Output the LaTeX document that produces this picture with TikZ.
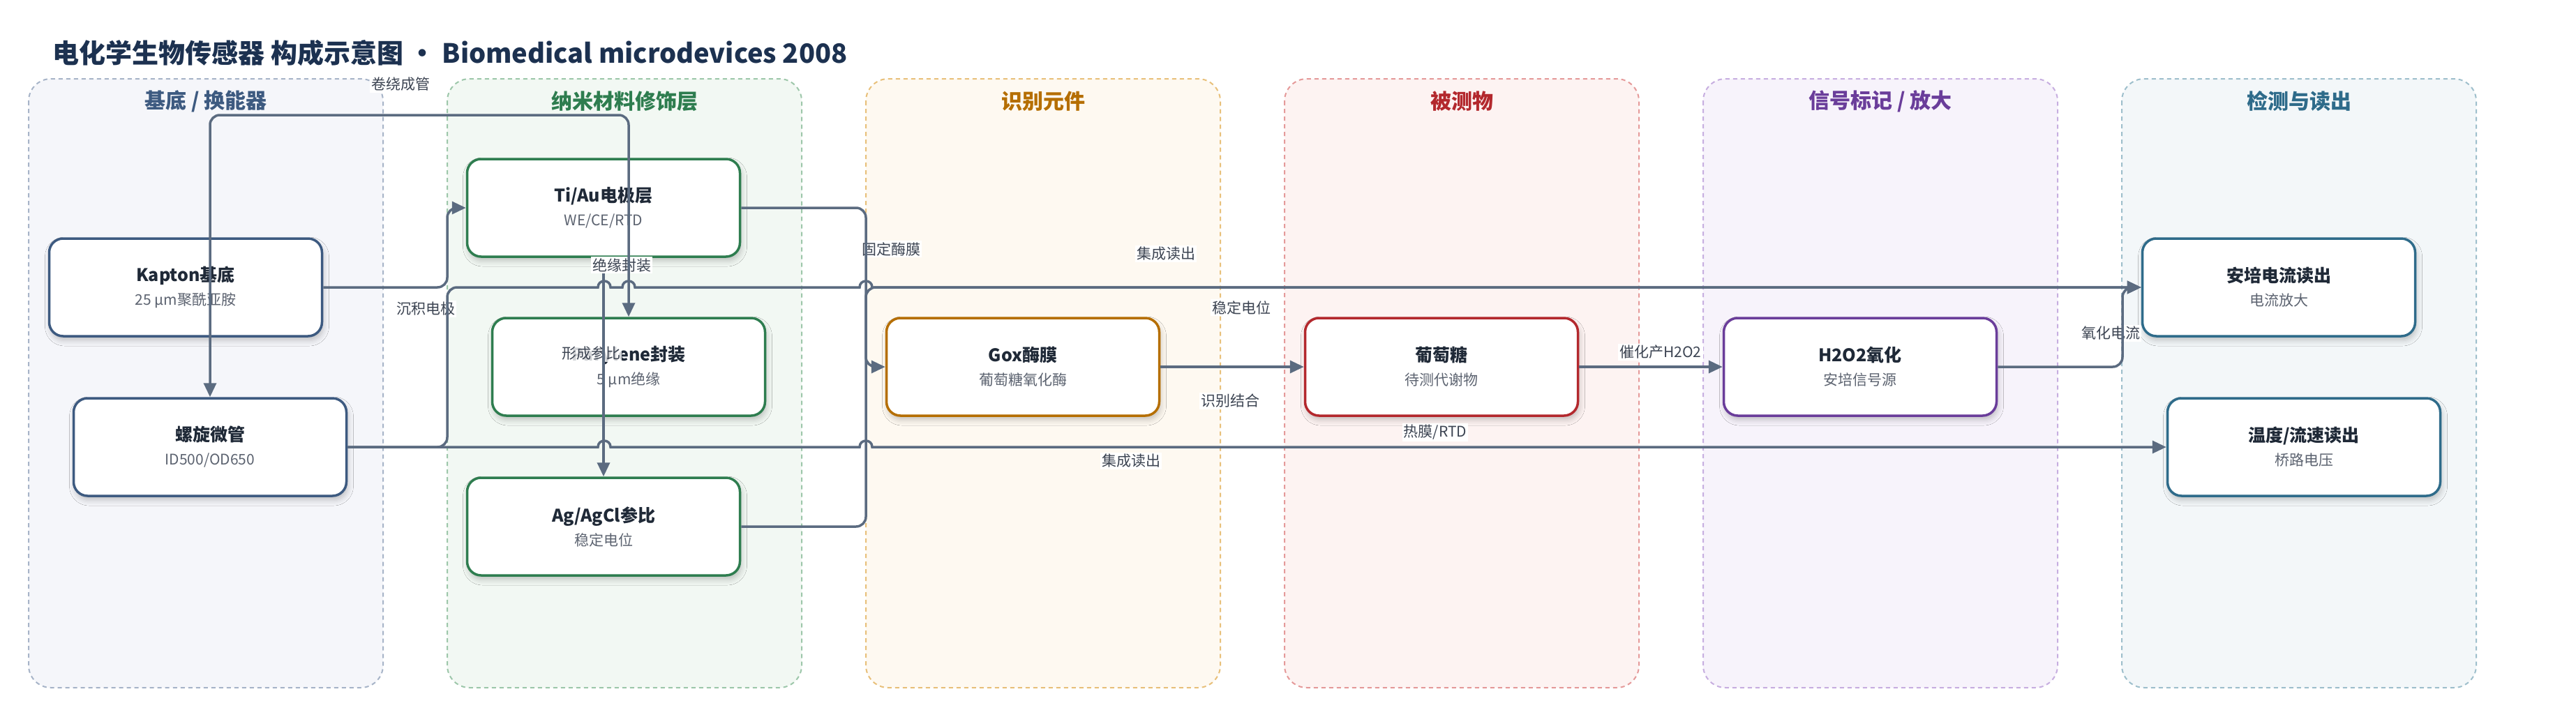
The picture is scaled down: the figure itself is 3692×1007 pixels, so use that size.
\documentclass[tikz,border=0pt]{standalone}
\usepackage{fontspec}
\setmainfont{Noto Sans CJK SC}
\usetikzlibrary{arrows.meta,shadows.blur}
\definecolor{edgec}{HTML}{5B6B80}
\definecolor{titlec}{HTML}{1C3150}
\definecolor{subc}{HTML}{5C6370}
\definecolor{lblc}{HTML}{3C4452}
\definecolor{txtc}{HTML}{1F2937}
\definecolor{bT}{HTML}{3D5A80}\definecolor{bF}{HTML}{F5F6FA}\definecolor{bB}{HTML}{A7B4C8}
\definecolor{gT}{HTML}{2E7D4F}\definecolor{gF}{HTML}{F2F8F3}\definecolor{gB}{HTML}{9DC7AA}
\definecolor{oT}{HTML}{B56E00}\definecolor{oF}{HTML}{FEF9F1}\definecolor{oB}{HTML}{E8C07A}
\definecolor{rT}{HTML}{B3282D}\definecolor{rF}{HTML}{FDF3F2}\definecolor{rB}{HTML}{E59A9A}
\definecolor{pT}{HTML}{6A3D9A}\definecolor{pF}{HTML}{F7F3FB}\definecolor{pB}{HTML}{C7AEE0}
\definecolor{tT}{HTML}{2E6B8A}\definecolor{tF}{HTML}{F3F7F9}\definecolor{tB}{HTML}{9EBFCC}
\newcommand{\nd}[2]{{\fontsize{25}{34}\selectfont\bfseries\color{txtc}#1}\\{\color{subc}#2}}
\tikzset{
  lane/.style={rounded corners=32pt, line width=2pt, dash pattern=on 6pt off 5pt},
  lanetitle/.style={font=\fontsize{30}{34}\selectfont\bfseries},
  box/.style={rectangle, rounded corners=20pt, line width=3.5pt, fill=white,
    minimum width=391pt, minimum height=140pt, inner sep=0pt, align=center,
    font=\fontsize{21}{34}\selectfont,
    blur shadow={shadow xshift=2pt, shadow yshift=-6pt, shadow blur radius=8pt, shadow opacity=22}},
  conn/.style={draw=edgec, line width=3.5pt, rounded corners=14pt,
    -{Triangle[length=20pt,width=18pt]}},
  lbl/.style={font=\fontsize{21}{24}\selectfont, text=lblc, fill=white, inner sep=2pt}
}
\begin{document}
\begin{tikzpicture}[x=1pt,y=-1pt]
\useasboundingbox[fill=white] (0,0) rectangle (3692,1007);
\node[anchor=west, text=titlec, font=\fontsize{38}{44}\selectfont\bfseries] (title) at (72,76)
  {电化学生物传感器 构成示意图 · Biomedical microdevices 2008};
% lanes
\draw[lane, draw=bB, fill=bF] (41,113) rectangle (549,986);
\draw[lane, draw=gB, fill=gF] (641,113) rectangle (1149,986);
\draw[lane, draw=oB, fill=oF] (1241,113) rectangle (1749,986);
\draw[lane, draw=rB, fill=rF] (1841,113) rectangle (2349,986);
\draw[lane, draw=pB, fill=pF] (2441,113) rectangle (2949,986);
\draw[lane, draw=tB, fill=tF] (3041,113) rectangle (3549,986);
\node[lanetitle, text=bT] (l1) at (295,145) {基底 / 换能器};
\node[lanetitle, text=gT] (l2) at (895,145) {纳米材料修饰层};
\node[lanetitle, text=oT] (l3) at (1495,145) {识别元件};
\node[lanetitle, text=rT] (l4) at (2095,145) {被测物};
\node[lanetitle, text=pT] (l5) at (2695,145) {信号标记 / 放大};
\node[lanetitle, text=tT] (l6) at (3295,145) {检测与读出};
% nodes
\node[box, draw=bT] (kapton) at (266,412) {\nd{Kapton基底}{25 µm聚酰亚胺}};
\node[box, draw=bT] (luoxuan) at (301,641) {\nd{螺旋微管}{ID500/OD650}};
\node[box, draw=gT] (tiau) at (865,298) {\nd{Ti/Au电极层}{WE/CE/RTD}};
\node[box, draw=gT] (parylene) at (901,526) {\nd{Parylene封装}{5 µm绝缘}};
\node[box, draw=gT] (agagcl) at (865,755) {\nd{Ag/AgCl参比}{稳定电位}};
\node[box, draw=oT] (gox) at (1466,526) {\nd{Gox酶膜}{葡萄糖氧化酶}};
\node[box, draw=rT] (glucose) at (2066,526) {\nd{葡萄糖}{待测代谢物}};
\node[box, draw=pT] (h2o2) at (2666,526) {\nd{H2O2氧化}{安培信号源}};
\node[box, draw=tT] (ampere) at (3266,412) {\nd{安培电流读出}{电流放大}};
\node[box, draw=tT] (temp) at (3302,641) {\nd{温度/流速读出}{桥路电压}};
% labels
\node[lbl] (e1) at (574,121) {卷绕成管};
\node[lbl] (e3) at (610,443) {沉积电极};
\node[lbl, fill opacity=0.8, text opacity=1] (e4) at (847,507) {形成参比};
\node[lbl] (e5) at (1277,357) {固定酶膜};
\node[lbl] (e9) at (1671,364) {集成读出};
\node[lbl] (e11) at (1779,441) {稳定电位};
\node[lbl] (e6) at (1763,575) {识别结合};
\node[lbl] (e12) at (2057,620) {热膜/RTD};
\node[lbl] (e10) at (1621,661) {集成读出};
\node[lbl] (e7) at (2380,505) {催化产H2O2};
\node[lbl] (e8) at (3025,478) {氧化电流};
% edges
\draw[conn] (tiau.south) -- (agagcl.north);
\node[lbl] (e2) at (891,380) {绝缘封装};
\coordinate (topL) at (301,165);
\coordinate (topR) at (901,165);
\draw[conn, {Triangle[length=20pt,width=18pt]}-{Triangle[length=20pt,width=18pt]}]
  (luoxuan.north) -- (topL) -- (topR) -- (parylene.north);
\draw[conn] (kapton.east) -- (641,412) -- (641,298) -- (tiau.west);
\draw[conn] (tiau.east) -- (1241,298) -- (1241,526) -- (gox.west);
\draw[conn] (agagcl.east) -- (1241,755) -- (1241,412) -- (ampere.west);
\draw[conn] (luoxuan.east) -- (641,641) -- (641,412) -- (760,412) [sharp corners]
  -- (857,412) .. controls (857,400) and (875,400) .. (875,412)
  -- (892,412) .. controls (892,400) and (910,400) .. (910,412)
  -- (1232,412) .. controls (1232,400) and (1250,400) .. (1250,412)
  -- (ampere.west);
\draw[conn, sharp corners] (luoxuan.east)
  -- (857,641) .. controls (857,629) and (875,629) .. (875,641)
  -- (1232,641) .. controls (1232,629) and (1250,629) .. (1250,641)
  -- (temp.west);
\draw[conn] (gox.east) -- (glucose.west);
\draw[conn] (glucose.east) -- (h2o2.west);
\draw[conn] (h2o2.east) -- (3042,526) -- (3042,412) -- (ampere.west);
\end{tikzpicture}
\end{document}
